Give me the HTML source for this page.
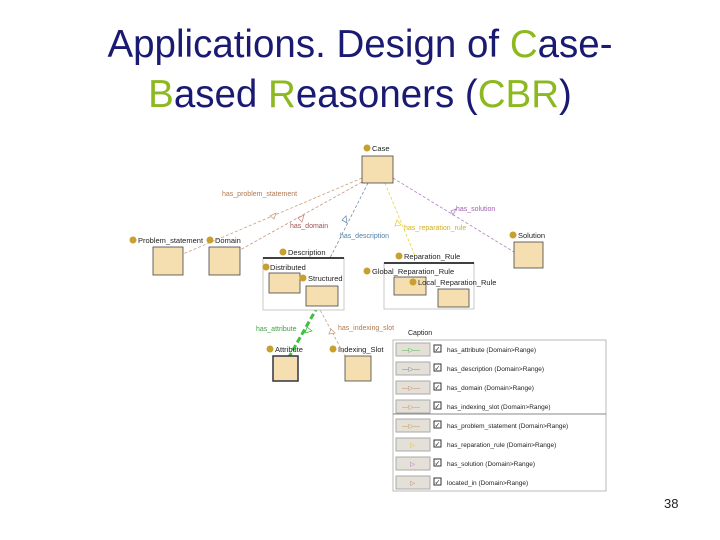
<!DOCTYPE html>
<html><head><meta charset="utf-8"><style>
body{margin:0;width:720px;height:540px;background:#fff;position:relative;overflow:hidden;font-family:"Liberation Sans",sans-serif}
.t{position:absolute;left:0;width:720px;text-align:center;font-size:38.5px;color:#1a1a72;line-height:50px}
.g{color:#8cb820}
</style></head><body>
<div class="t" style="top:20px">Applications. Design of <span class="g">C</span>ase-</div>
<div class="t" style="top:70px"><span class="g">B</span>ased <span class="g">R</span>easoners (<span class="g">CBR</span>)</div>
<svg width="720" height="540" style="position:absolute;left:0;top:0" font-family="Liberation Sans, sans-serif" font-size="7.5">
<g fill="none" stroke-width="0.8" stroke-dasharray="3,2">
<line x1="362" y1="178" x2="183" y2="254" stroke="#c9a080"/>
<line x1="362" y1="182" x2="240" y2="250" stroke="#c99080"/>
<line x1="368" y1="183" x2="330" y2="258" stroke="#7090b0"/>
<line x1="385" y1="183" x2="415" y2="256" stroke="#e8d040"/>
<line x1="393" y1="178" x2="514" y2="252" stroke="#b080c0"/>
<line x1="318" y1="306" x2="345" y2="356" stroke="#c9a080"/>
</g>
<line x1="318" y1="306" x2="289" y2="357" stroke="#40c040" stroke-width="3" stroke-dasharray="6,3"/>
<g fill="#fff" stroke-width="0.8">
<polygon points="270,216 276,213 274,219" stroke="#c9a080"/>
<polygon points="298,218 304,215 302,222" stroke="#c99080"/>
<polygon points="342,220 346,216 347,223" stroke="#7090b0"/>
<polygon points="397,220 401,225 395,226" stroke="#e8d040"/>
<polygon points="451,211 456,209 453,215" stroke="#b080c0"/>
<polygon points="307,327 312,331 305,333" stroke="#40c040"/>
<polygon points="331,329 335,333 329,334" stroke="#c9a080"/>
</g>
<g font-size="7" >
<text x="222" y="196" fill="#b07850">has_problem_statement</text>
<text x="290" y="228" fill="#a05050">has_domain</text>
<text x="340" y="238" fill="#5080a0">has_description</text>
<text x="404" y="230" fill="#d0b020">has_reparation_rule</text>
<text x="456" y="211" fill="#a060b0">has_solution</text>
<text x="256" y="331" fill="#40a040">has_attribute</text>
<text x="338" y="330" fill="#b07850">has_indexing_slot</text>
</g>
<g fill="#f5deb0" stroke="#444" stroke-width="0.8">
<rect x="362" y="156" width="31" height="27"/>
<rect x="153" y="247" width="30" height="28"/>
<rect x="209" y="247" width="31" height="28"/>
<rect x="263" y="258" width="81" height="52" fill="#fff" stroke="#bbb"/>
<line x1="263" y1="258" x2="344" y2="258" stroke="#000" stroke-width="1.5"/>
<rect x="269" y="273" width="31" height="20"/>
<rect x="306" y="286" width="32" height="20"/>
<rect x="384" y="263" width="90" height="46" fill="#fff" stroke="#bbb"/>
<line x1="384" y1="263" x2="474" y2="263" stroke="#000" stroke-width="1.5"/>
<rect x="394" y="277" width="32" height="18"/>
<rect x="438" y="289" width="31" height="18"/>
<rect x="514" y="242" width="29" height="26"/>
<rect x="273" y="356" width="25" height="25" stroke="#334" stroke-width="1.5"/>
<rect x="345" y="356" width="26" height="25"/>
</g>
<g fill="#c8a030">
<circle cx="367" cy="148" r="3.5"/><circle cx="133" cy="240" r="3.5"/><circle cx="210" cy="240" r="3.5"/>
<circle cx="283" cy="252" r="3.5"/><circle cx="266" cy="267" r="3.5"/><circle cx="303" cy="278" r="3.5"/>
<circle cx="399" cy="256" r="3.5"/><circle cx="367" cy="271" r="3.5"/><circle cx="413" cy="282" r="3.5"/>
<circle cx="513" cy="235" r="3.5"/><circle cx="270" cy="349" r="3.5"/><circle cx="333" cy="349" r="3.5"/>
</g>
<g fill="#222">
<text x="372" y="151">Case</text><text x="138" y="243">Problem_statement</text><text x="215" y="243">Domain</text>
<text x="288" y="255">Description</text><text x="270" y="270">Distributed</text><text x="308" y="281">Structured</text>
<text x="404" y="259">Reparation_Rule</text><text x="372" y="274">Global_Reparation_Rule</text><text x="418" y="285">Local_Reparation_Rule</text>
<text x="518" y="238">Solution</text><text x="275" y="352">Attribute</text><text x="338" y="352">Indexing_Slot</text>
<text x="408" y="335" font-size="7">Caption</text>
</g>
<rect x="393" y="340" width="213" height="151" fill="#fff" stroke="#aaa" stroke-width="0.8"/>
<g font-size="6.5" fill="#222">
<g><rect x="396" y="343" width="34" height="13" fill="#e4e0d8" stroke="#aaa"/><text x="402" y="352" fill="#40b040">—▷—</text><rect x="434" y="345" width="7" height="7" fill="#fff" stroke="#333"/><text x="434.5" y="351.5" font-size="7">✓</text><text x="447" y="352">has_attribute (Domain&gt;Range)</text></g>
<g transform="translate(0,19)"><rect x="396" y="343" width="34" height="13" fill="#e4e0d8" stroke="#aaa"/><text x="402" y="352" fill="#6080a0">—▷—</text><rect x="434" y="345" width="7" height="7" fill="#fff" stroke="#333"/><text x="434.5" y="351.5" font-size="7">✓</text><text x="447" y="352">has_description (Domain&gt;Range)</text></g>
<g transform="translate(0,38)"><rect x="396" y="343" width="34" height="13" fill="#e4e0d8" stroke="#aaa"/><text x="402" y="352" fill="#c08060">—▷—</text><rect x="434" y="345" width="7" height="7" fill="#fff" stroke="#333"/><text x="434.5" y="351.5" font-size="7">✓</text><text x="447" y="352">has_domain (Domain&gt;Range)</text></g>
<g transform="translate(0,57)"><rect x="396" y="343" width="34" height="13" fill="#e4e0d8" stroke="#aaa"/><text x="402" y="352" fill="#c09050">—▷—</text><rect x="434" y="345" width="7" height="7" fill="#fff" stroke="#333"/><text x="434.5" y="351.5" font-size="7">✓</text><text x="447" y="352">has_indexing_slot (Domain&gt;Range)</text></g>
<g transform="translate(0,76)"><rect x="396" y="343" width="34" height="13" fill="#e4e0d8" stroke="#aaa"/><text x="402" y="352" fill="#c09050">—▷—</text><rect x="434" y="345" width="7" height="7" fill="#fff" stroke="#333"/><text x="434.5" y="351.5" font-size="7">✓</text><text x="447" y="352">has_problem_statement (Domain&gt;Range)</text></g>
<g transform="translate(0,95)"><rect x="396" y="343" width="34" height="13" fill="#e4e0d8" stroke="#aaa"/><text x="410" y="352" fill="#e0c030">▷</text><rect x="434" y="345" width="7" height="7" fill="#fff" stroke="#333"/><text x="434.5" y="351.5" font-size="7">✓</text><text x="447" y="352">has_reparation_rule (Domain&gt;Range)</text></g>
<g transform="translate(0,114)"><rect x="396" y="343" width="34" height="13" fill="#e4e0d8" stroke="#aaa"/><text x="410" y="352" fill="#b070c0">▷</text><rect x="434" y="345" width="7" height="7" fill="#fff" stroke="#333"/><text x="434.5" y="351.5" font-size="7">✓</text><text x="447" y="352">has_solution (Domain&gt;Range)</text></g>
<g transform="translate(0,133)"><rect x="396" y="343" width="34" height="13" fill="#e4e0d8" stroke="#aaa"/><text x="410" y="352" fill="#c08060">▷</text><rect x="434" y="345" width="7" height="7" fill="#fff" stroke="#333"/><text x="434.5" y="351.5" font-size="7">✓</text><text x="447" y="352">located_in (Domain&gt;Range)</text></g>
<line x1="393" y1="414" x2="606" y2="414" stroke="#888"/>
</g>
<text x="664" y="508" font-size="13" fill="#222">38</text>
</svg>
</body></html>
